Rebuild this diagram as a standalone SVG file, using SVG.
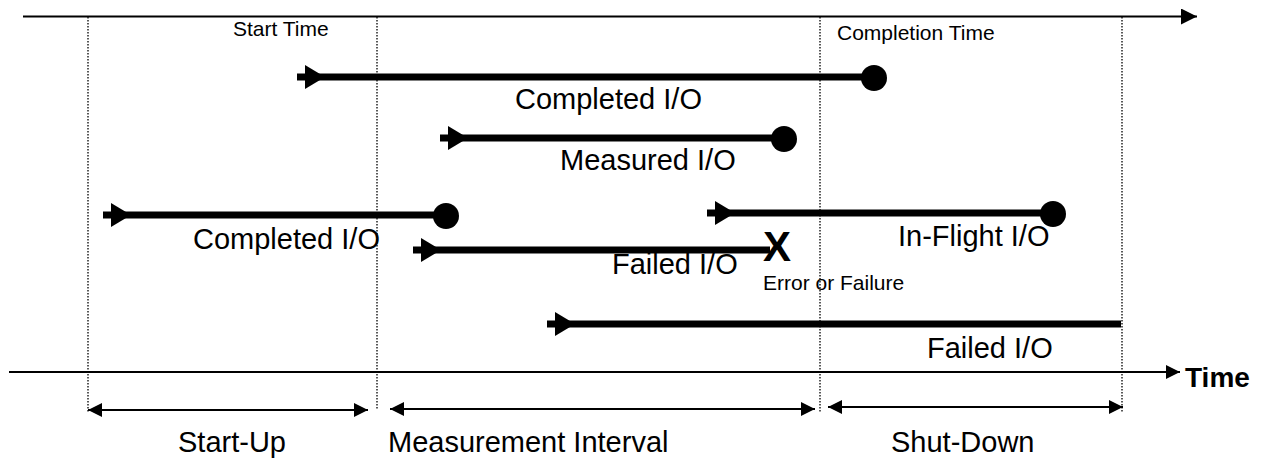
<svg xmlns="http://www.w3.org/2000/svg" width="1262" height="462" viewBox="0 0 1262 462">
<defs>
<style>
text{font-family:"Liberation Sans",Arial,sans-serif;fill:#000}
.sm{font-size:21px}
.lg{font-size:29px}
.b{font-weight:bold}
.axis{stroke:#000;stroke-width:2;fill:none}
.dot{stroke:#000;stroke-width:1.3;stroke-dasharray:1.5 1.5;fill:none}
.io{stroke:#000;stroke-width:7;fill:none}
.dim{stroke:#000;stroke-width:2;fill:none}
</style>
<marker id="ah" viewBox="0 0 14 14" refX="14" refY="7" markerWidth="14" markerHeight="14" markerUnits="userSpaceOnUse" orient="auto-start-reverse">
<path d="M0,0 L14,7 L0,14 Z" fill="#000"/>
</marker>
<marker id="ahBig" viewBox="0 0 16 16" refX="16" refY="8" markerWidth="16" markerHeight="16" markerUnits="userSpaceOnUse" orient="auto">
<path d="M0,0 L16,8 L0,16 Z" fill="#000"/>
</marker>
</defs>
<rect width="1262" height="462" fill="#fff"/>
<g id="guides">
<line class="dot" x1="88" y1="17" x2="88" y2="412"/>
<line class="dot" x1="377" y1="17" x2="377" y2="410"/>
<line class="dot" x1="820" y1="17" x2="820" y2="412"/>
<line class="dot" x1="1122" y1="17" x2="1122" y2="413"/>
</g>
<g id="connectors">
<line id="top-axis" class="axis" x1="23" y1="16.5" x2="1197" y2="16.5" marker-end="url(#ahBig)"/>
<line id="time-axis" class="axis" x1="9" y1="372" x2="1180" y2="372" marker-end="url(#ah)"/>
<line id="startup-span" class="dim" x1="88" y1="410" x2="368" y2="410" marker-start="url(#ah)" marker-end="url(#ah)"/>
<line id="measure-span" class="dim" x1="390" y1="409" x2="815" y2="409" marker-start="url(#ah)" marker-end="url(#ah)"/>
<line id="shutdown-span" class="dim" x1="828" y1="407" x2="1123" y2="407" marker-start="url(#ah)" marker-end="url(#ah)"/>
</g>
<g id="io-completed-top">
<line class="io" x1="297" y1="77" x2="874" y2="77"/>
<polygon points="305,65 325,77 305,89"/>
<circle cx="874" cy="78" r="13"/>
<text class="lg" x="515" y="109">Completed I/O</text>
</g>
<g id="io-measured">
<line class="io" x1="440" y1="138" x2="784" y2="138"/>
<polygon points="448,126 468,138 448,150"/>
<circle cx="784" cy="139" r="13"/>
<text class="lg" x="560" y="170">Measured I/O</text>
</g>
<g id="io-completed-left">
<line class="io" x1="103" y1="215" x2="446" y2="215"/>
<polygon points="111,203 131,215 111,227"/>
<circle cx="446" cy="216" r="13"/>
<text class="lg" x="193" y="249">Completed I/O</text>
</g>
<g id="io-inflight">
<line class="io" x1="707" y1="213" x2="1053" y2="213"/>
<polygon points="715,201 735,213 715,225"/>
<circle cx="1053" cy="214" r="13"/>
<text class="lg" x="898" y="246">In-Flight I/O</text>
</g>
<g id="io-failed-mid">
<line class="io" x1="413" y1="250" x2="770" y2="250"/>
<polygon points="421,238 441,250 421,262"/>
<text class="b" x="763" y="261" font-size="42">X</text>
<text class="sm" x="763" y="290">Error or Failure</text>
<text class="lg" x="612" y="274">Failed I/O</text>
</g>
<g id="io-failed-bottom">
<line class="io" x1="547" y1="324" x2="1121" y2="324"/>
<polygon points="555,312 575,324 555,336"/>
<text class="lg" x="927" y="358">Failed I/O</text>
</g>
<g id="labels">
<text class="sm" x="233" y="36">Start Time</text>
<text class="sm" x="837" y="40">Completion Time</text>
<text class="b" x="1185" y="387" font-size="28">Time</text>
<text class="lg" x="178" y="452">Start-Up</text>
<text class="lg" x="388" y="452">Measurement Interval</text>
<text class="lg" x="891" y="452">Shut-Down</text>
</g>
</svg>
